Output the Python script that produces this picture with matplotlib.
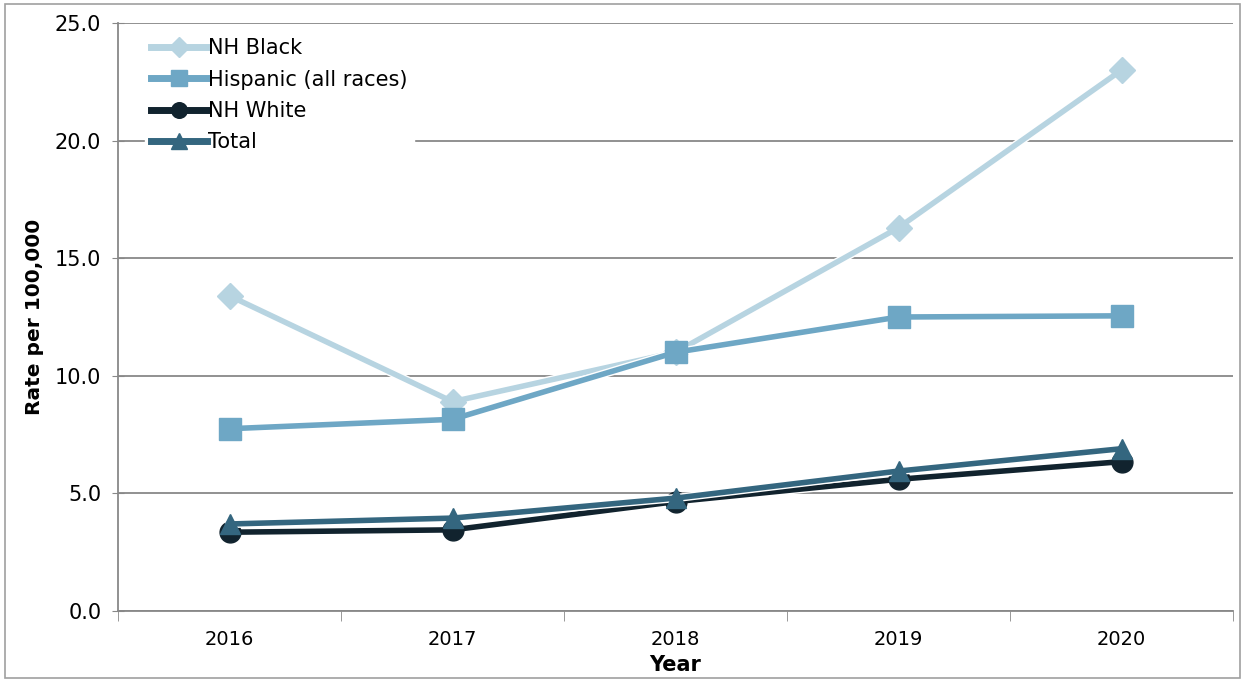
import numpy as np
import matplotlib
matplotlib.use("Agg")
import matplotlib.pyplot as plt
import matplotlib.patheffects as pe
from matplotlib.patches import Rectangle
from matplotlib.lines import Line2D

# data
years = ["2016", "2017", "2018", "2019", "2020"]
nh_black = [13.4, 8.9, 11.0, 16.3, 23.0]
hispanic = [7.75, 8.15, 11.0, 12.5, 12.55]
nh_white = [3.35, 3.45, 4.65, 5.6, 6.35]
total = [3.7, 3.95, 4.8, 5.95, 6.9]

series = [
    ("NH Black", nh_black, "#b7d4e1", "D", 13),
    ("Hispanic (all races)", hispanic, "#6ea7c5", "s", 16),
    ("NH White", nh_white, "#11232e", "o", 15),
    ("Total", total, "#34667f", "^", 15),
]

plt.rcParams['font.family'] = ['DejaVu Sans']
fig = plt.figure(figsize=(12.45, 6.81), dpi=100)
ax = fig.add_axes([0.0948, 0.1028, 0.8956, 0.8634])

x = np.arange(len(years))
handles = []
for i, (name, vals, col, mk, ms) in enumerate(series):
    ax.plot(x, vals, color=col, lw=4, zorder=3 + i,
            path_effects=[pe.Stroke(linewidth=6, foreground="white"), pe.Normal()])
    ax.plot(x, vals, ls="none", marker=mk, ms=ms, mec=col, mfc=col, zorder=3 + i)
    handles.append(Line2D([], [], color=col, lw=5, marker=mk, ms=ms * 0.75,
                          mec=col, mfc=col, label=name))

ax.set_xlim(-0.5, 4.5)
ax.set_ylim(0, 25)
ax.set_yticks(np.arange(0, 26, 5))
ax.set_yticklabels(["%.1f" % v for v in np.arange(0, 26, 5)], fontsize=15)
ax.set_xticks(x)
ax.set_xticklabels(years, fontsize=14)
ax.set_xticks(np.arange(-0.5, 5, 1), minor=True)
ax.tick_params(axis="x", which="major", length=0, pad=14)
ax.tick_params(axis="x", which="minor", length=7, color="#888888", direction="out")
ax.tick_params(axis="y", length=8, color="#888888", direction="inout", pad=8)
ax.grid(axis="y", color="#888888", lw=1.3)
ax.set_axisbelow(True)
for s in ["top", "right"]:
    ax.spines[s].set_visible(False)
for s in ["left", "bottom"]:
    ax.spines[s].set_color("#888888")
    ax.spines[s].set_linewidth(1.3)

ax.set_xlabel("Year", fontsize=15, fontweight="bold", labelpad=4)
ax.set_ylabel("Rate per 100,000", fontsize=14.5, fontweight="bold", labelpad=8)

leg = ax.legend(handles=handles, loc="upper left", bbox_to_anchor=(0.024, 0.985),
                frameon=True, fontsize=15, handlelength=2.7, handletextpad=0.05,
                labelspacing=0.55, borderpad=0.3, borderaxespad=0)
leg.get_frame().set_edgecolor("white")
leg.get_frame().set_facecolor("white")
leg.get_frame().set_alpha(1)
leg.set_zorder(10)

fig.patches.append(Rectangle((0.004, 0.004), 0.992, 0.99, transform=fig.transFigure,
                             fill=False, edgecolor="#a0a0a0", lw=1.2))

fig.savefig("out.png", dpi=100)
